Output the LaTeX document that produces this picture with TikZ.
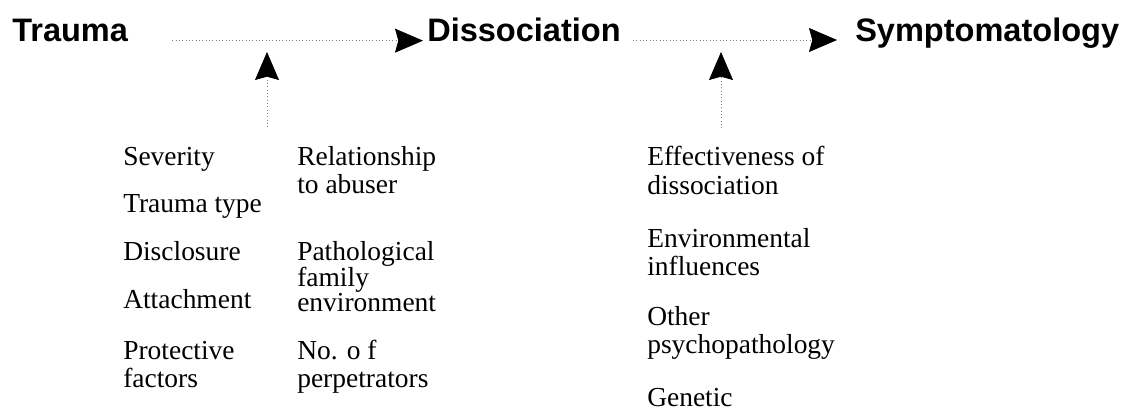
\documentclass[tikz,border=0pt]{standalone}
\usepackage{fontspec}
\setmainfont{Liberation Serif}
\newfontfamily\headfont{Liberation Sans}
\usetikzlibrary{arrows.meta}

\tikzset{
  head/.style={font=\headfont\bfseries\fontsize{24.4}{29}\selectfont, inner sep=0pt, anchor=base west},
  factor/.style={font=\fontsize{20.6}{21}\selectfont, inner sep=0pt, anchor=base west},
  flowline/.style={dotted, gray, line width=0.5pt, -{Stealth[length=21pt,width=18pt,inset=2.5pt,color=black]}},
}
\newcommand{\lines}[1]{\begin{tabular}[t]{@{}l@{}}#1\end{tabular}}

\begin{document}
\begin{tikzpicture}[x=0.75pt,y=-0.75pt]
\useasboundingbox (0,0) rectangle (1125,410);

% The three stages
\node[head] (trauma) at (12,42) {Trauma};
\node[head] (dissoc) at (427,42) {Dissociation};
\node[head] (sympt) at (855,42) {Symptomatology};

% Main path
\draw[flowline, shorten <=33pt, shorten >=3pt] ([yshift=1pt]trauma.base east) -- ([yshift=1pt]dissoc.base west);
\draw[flowline, shorten <=9pt, shorten >=13.5pt] ([yshift=1.5pt]dissoc.base east) -- ([yshift=1.5pt]sympt.base west);

% Moderating influences
\coordinate (from1) at (267,127);
\coordinate (to1) at (267,52);
\coordinate (from2) at (721,128);
\coordinate (to2) at (721,52);
\draw[flowline] (from1) -- (to1);
\draw[flowline] (from2) -- (to2);

% Factors between trauma and dissociation
\node[factor] (severity) at (123,165) {Severity};
\node[factor] (type) at (123,212) {Trauma type};
\node[factor] (disclosure) at (123,260) {Disclosure};
\node[factor] (attachment) at (123,308) {Attachment};
\node[factor] (protective) at (123,359) {\lines{Protective\\factors}};
\node[factor] (relation) at (297,165) {\lines{Relationship\\to abuser}};
\node[factor, font=\fontsize{20.6}{18}\selectfont] (family) at (297,260) {\lines{Pathological\\family\\environment}};
\node[factor] (perps) at (297,359) {\lines{No. o f\\perpetrators}};

% Factors between dissociation and symptomatology
\node[factor] (effect) at (647,166) {\lines{Effectiveness of\\dissociation}};
\node[factor] (environ) at (647,247) {\lines{Environmental\\influences}};
\node[factor] (other) at (647,325) {\lines{Other\\psychopathology}};
\node[factor] (genetic) at (647,406) {Genetic};

\end{tikzpicture}
\end{document}
